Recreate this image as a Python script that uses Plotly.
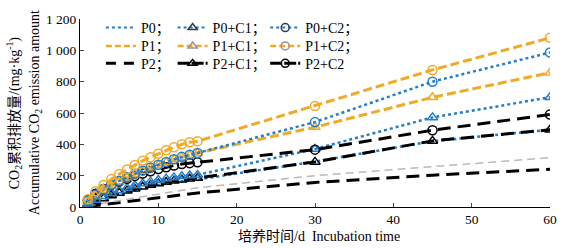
import plotly.graph_objects as go

days = list(range(1, 16)) + [30, 45, 60]

p0    = [12, 30, 48, 65, 80, 94, 107, 119, 130, 140, 149, 157, 164, 170, 175, 290, 420, 493]
p1    = [8, 16, 25, 33, 41, 49, 57, 66, 74, 82, 90, 98, 107, 115, 123, 200, 256, 315]
p2    = [3, 9, 15, 21, 27, 33, 39, 45, 51, 57, 63, 69, 75, 82, 90, 157, 203, 241]
p0_c1 = [20, 45, 68, 88, 106, 122, 137, 150, 162, 172, 181, 189, 196, 201, 205, 370, 572, 700]
p0_c2 = [40, 78, 112, 142, 168, 190, 212, 232, 252, 270, 288, 305, 320, 333, 345, 542, 800, 986]
p1_c1 = [35, 72, 106, 136, 162, 186, 208, 230, 250, 268, 286, 303, 318, 332, 345, 510, 700, 857]
p1_c2 = [50, 100, 140, 178, 210, 240, 268, 295, 318, 340, 362, 382, 400, 413, 420, 645, 875, 1080]
p2_c1 = [15, 35, 55, 73, 90, 104, 117, 129, 140, 150, 159, 167, 174, 180, 185, 288, 422, 493]
p2_c2 = [45, 85, 115, 140, 162, 180, 198, 214, 228, 242, 254, 265, 274, 280, 285, 366, 490, 590]

x_ticks = [0, 10, 20, 30, 40, 50, 60]
y_ticks = [0, 200, 400, 600, 800, 1000, 1200]
y_tick_text = ["0", "200", "400", "600", "800", "1 000", "1 200"]

BLUE = "rgb(35,125,200)"
ORANGE = "rgb(240,170,40)"
BLACK = "black"
GREY = "rgb(185,185,185)"
SERIF = "Liberation Serif, Noto Sans CJK SC, serif"

BLUE_DOT = "dot"
ORANGE_DASH = "9px,4px"
BLACK_DASH = "13px,7px"

fig = go.Figure()

def add(y, color, dash, width, symbol=None):
    fig.add_trace(go.Scatter(
        x=days, y=y, mode="lines+markers" if symbol else "lines",
        line=dict(color=color, dash=dash, width=width),
        marker=dict(symbol=symbol, size=9, color=color, line=dict(color=color, width=1.5)) if symbol else None,
        showlegend=False, hoverinfo="skip"))

add(p2, BLACK, BLACK_DASH, 3)
add(p1, GREY, "8px,5px", 1.5)
add(p0, BLUE, BLUE_DOT, 2.5)
add(p2_c1, BLACK, BLACK_DASH, 3, "triangle-up-open")
add(p0_c1, BLUE, BLUE_DOT, 2.5, "triangle-up-open")
add(p2_c2, BLACK, BLACK_DASH, 3, "circle-open")
add(p1_c1, ORANGE, ORANGE_DASH, 3, "triangle-up-open")
add(p0_c2, BLUE, BLUE_DOT, 2.5, "circle-open")
add(p1_c2, ORANGE, ORANGE_DASH, 3, "circle-open")

# legend entries (3 x 3 grid)
legend_items = [
    ("P0；", BLUE, BLUE_DOT, 2, None, None),
    ("P0+C1；", BLUE, BLUE_DOT, 2, "triangle-up-open", "rgb(50,60,80)"),
    ("P0+C2；", BLUE, BLUE_DOT, 2, "circle-open", "rgb(50,60,80)"),
    ("P1；", ORANGE, "6px,3px", 2.5, None, None),
    ("P1+C1；", ORANGE, "6px,3px", 2.5, "triangle-up-open", "rgb(150,150,150)"),
    ("P1+C2；", ORANGE, "6px,3px", 2.5, "circle-open", "rgb(150,150,150)"),
    ("P2；", BLACK, "10px,8px", 3, None, None),
    ("P2+C1；", BLACK, "12px,2px", 3, "triangle-up-open", BLACK),
    ("P2+C2", BLACK, "12px,2px", 3, "circle-open", BLACK),
]
col_x = [101, 173, 266]
row_y = [27, 45.5, 63]
X0, X1, Y0, Y1 = 80, 552, 207, 18
layout_legends = {}
for i, (name, col, dash, w, sym, mcol) in enumerate(legend_items):
    r, c = divmod(i, 3)
    key = "legend" if i == 0 else f"legend{i+1}"
    fig.add_trace(go.Scatter(
        x=[None], y=[None], name=name,
        mode="lines+markers" if sym else "lines",
        line=dict(color=col, dash=dash, width=w),
        marker=dict(symbol=sym, size=8, color=mcol, line=dict(color=mcol, width=1.5)) if sym else None,
        legend=key, showlegend=True))
    layout_legends[key] = dict(
        x=(col_x[c] - X0) / (X1 - X0), y=(Y0 - row_y[r]) / (Y0 - Y1),
        xanchor="left", yanchor="middle", bgcolor="rgba(0,0,0,0)",
        font=dict(family=SERIF, size=14, color="black"), borderwidth=0)

fig.update_layout(
    width=569, height=248,
    margin=dict(l=X0, r=569 - X1, t=Y1, b=248 - Y0),
    paper_bgcolor="white", plot_bgcolor="white",
    font=dict(family=SERIF, size=13.5, color="black"),
    xaxis=dict(range=[0, 60], tickvals=x_ticks, ticks="inside", ticklen=4,
               showline=True, linecolor="black", linewidth=1, showgrid=False,
               zeroline=False, tickfont=dict(family=SERIF, size=13.5)),
    yaxis=dict(range=[0, 1200], tickvals=y_ticks, ticktext=y_tick_text,
               ticks="inside", ticklen=4, showline=True, linecolor="black",
               linewidth=1, showgrid=False, zeroline=False,
               tickfont=dict(family=SERIF, size=13.5)),
    annotations=[
        dict(text="CO<sub>2</sub>累积排放量/(mg·kg<sup>-1</sup>)", textangle=-90,
             xref="paper", yref="paper", x=(14 - X0) / (X1 - X0), y=0.5,
             xanchor="center", yanchor="middle", showarrow=False,
             font=dict(family=SERIF, size=14)),
        dict(text="Accumulative CO<sub>2</sub> emission amount", textangle=-90,
             xref="paper", yref="paper", x=(35 - X0) / (X1 - X0), y=0.5,
             xanchor="center", yanchor="middle", showarrow=False,
             font=dict(family=SERIF, size=14)),
        dict(text="培养时间/d  Incubation time",
             xref="paper", yref="paper", x=(320 - X0) / (X1 - X0),
             y=(Y0 - 237) / (Y0 - Y1), xanchor="center", yanchor="middle",
             showarrow=False, font=dict(family=SERIF, size=14)),
    ],
    **layout_legends,
)

fig.write_html("out.html", config={"displayModeBar": False},
               post_script="document.body.style.margin='0';document.body.style.overflow='hidden';")
